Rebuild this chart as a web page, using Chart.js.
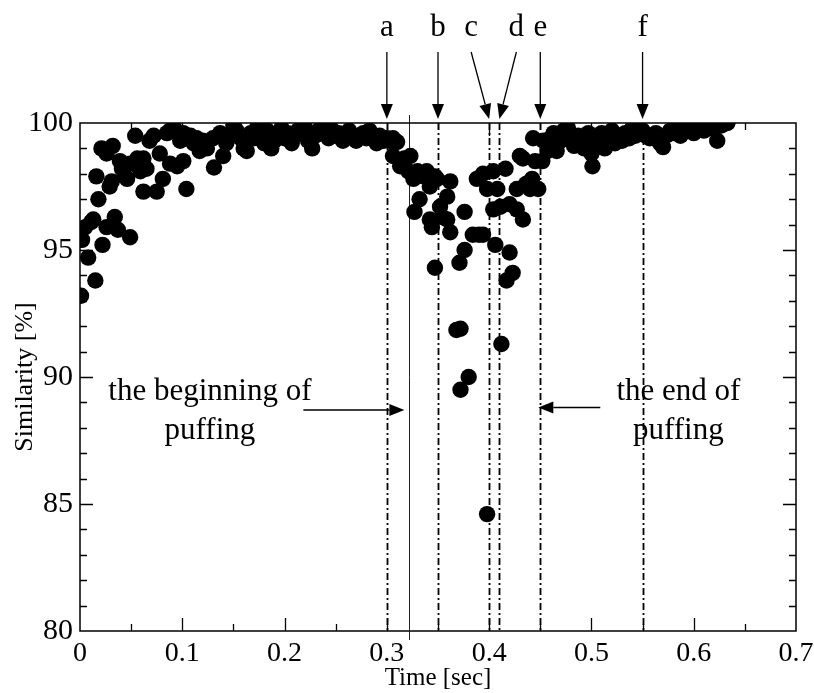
<!DOCTYPE html>
<html>
<head>
<meta charset="utf-8">
<script src="https://cdn.jsdelivr.net/npm/chart.js@4.4.1/dist/chart.umd.min.js"></script>
<style>
  html, body { margin: 0; padding: 0; background: #fff; }
  canvas { display: block; }
</style>
</head>
<body>
<canvas id="chart" width="814" height="693"></canvas>
<script>
// Frame-by-frame similarity of the image sequence
const timeSec = [
  0.001, 0.002, 0.005, 0.008, 0.011, 0.013, 0.015, 0.016, 0.018, 0.021,
  0.022, 0.026, 0.026, 0.029, 0.031, 0.032, 0.034, 0.037, 0.039, 0.041,
  0.044, 0.046, 0.049, 0.049, 0.054, 0.056, 0.059, 0.062, 0.062, 0.065,
  0.068, 0.072, 0.075, 0.078, 0.081, 0.085, 0.088, 0.088, 0.092, 0.095,
  0.098, 0.101, 0.101, 0.104, 0.108, 0.111, 0.114, 0.117, 0.120, 0.124,
  0.131, 0.130, 0.137, 0.140, 0.143, 0.147, 0.150, 0.153,
  0.157, 0.160, 0.163, 0.167, 0.170, 0.173, 0.177, 0.180, 0.183, 0.187,
  0.190, 0.193, 0.197, 0.200, 0.203, 0.207, 0.210, 0.213, 0.217, 0.220,
  0.223, 0.227, 0.230, 0.233, 0.237, 0.240, 0.243, 0.247, 0.250, 0.253,
  0.257, 0.260, 0.263, 0.267, 0.270, 0.273, 0.277, 0.280, 0.283, 0.287,
  0.290, 0.293, 0.297, 0.300, 0.303, 0.306, 0.310,
  0.306, 0.313, 0.317, 0.321, 0.323, 0.326, 0.330, 0.332, 0.327, 0.336,
  0.339, 0.342, 0.342, 0.344, 0.347, 0.347, 0.349, 0.352, 0.354, 0.359,
  0.359, 0.362, 0.362, 0.368, 0.371, 0.372, 0.372, 0.376, 0.376, 0.380,
  0.384, 0.388, 0.390, 0.394, 0.394, 0.398, 0.398, 0.404, 0.404, 0.406,
  0.408, 0.411, 0.412, 0.416, 0.417, 0.420, 0.420, 0.423, 0.427, 0.427,
  0.430, 0.433, 0.433, 0.436, 0.438, 0.440, 0.442, 0.443, 0.445, 0.448,
  0.452, 0.453,
  0.457, 0.460, 0.463, 0.466, 0.470, 0.473, 0.477, 0.480, 0.483, 0.487,
  0.490, 0.493, 0.497, 0.500, 0.501, 0.503, 0.507, 0.510, 0.513, 0.517,
  0.520, 0.523, 0.527, 0.530, 0.533, 0.537, 0.540, 0.543, 0.547, 0.550,
  0.553, 0.557, 0.560, 0.563, 0.567, 0.570, 0.573, 0.577, 0.580, 0.583,
  0.587, 0.590, 0.593, 0.597, 0.600, 0.603, 0.607, 0.610, 0.613, 0.617,
  0.620, 0.623, 0.627, 0.630, 0.633
];

const similarity = [
  93.2, 95.4, 95.9, 94.7, 96.1, 96.2, 93.8, 97.9, 97.0, 99.0,
  95.2, 98.8, 95.9, 97.5, 97.7, 99.1, 96.3, 95.8, 98.5, 98.2,
  97.9, 97.8, 98.4, 95.5, 99.5, 98.6, 98.1, 97.3, 98.6, 98.2,
  99.3, 99.5, 97.3, 98.8, 97.8, 99.6, 99.7, 98.4, 99.8, 98.3,
  99.3, 99.6, 98.5, 97.4, 99.5, 99.2, 99.4, 98.9, 99.3, 99.0,
  98.25, 99.4, 99.6, 98.7, 99.2, 99.5, 99.9, 99.7,
  99.4, 99.0, 98.9, 99.6, 99.4, 99.8, 99.5, 99.2, 99.7, 99.0,
  99.3, 99.6, 99.8, 99.4, 99.6, 99.2, 99.5, 99.7, 99.9, 99.8,
  99.3, 99.0, 99.5, 99.7, 99.9, 99.6, 99.4, 99.7, 99.5, 99.6,
  99.3, 99.5, 99.7, 99.4, 99.3, 99.5, 99.6, 99.4, 99.7, 99.4,
  99.2, 99.5, 99.3, 99.4, 99.3, 99.4, 99.25,
  98.7, 98.3, 98.6, 98.1, 98.7, 97.8, 98.1, 97.0, 96.5, 97.9,
  98.1, 97.5, 96.2, 95.9, 97.9, 94.3, 97.8, 96.7, 96.3, 97.1,
  96.2, 97.7, 95.7, 91.85, 94.5, 91.9, 89.5, 96.5, 95.0, 90.0,
  95.6, 97.8, 95.6, 98.0, 95.6, 97.4, 84.6, 98.1, 96.6, 95.2,
  97.4, 96.7, 91.3, 98.2, 93.8, 96.8, 94.9, 94.1, 96.6, 97.4,
  98.7, 96.2, 98.6, 97.6, 97.5, 97.4, 97.8, 99.4, 98.5, 97.4,
  98.5, 99.3,
  98.9, 99.4, 99.6, 98.9, 99.3, 99.7, 99.8, 99.4, 99.1, 99.5,
  99.3, 99.0, 99.6, 98.8, 98.3, 99.4, 99.2, 99.6, 99.0, 99.4,
  99.7, 99.2, 99.5, 99.3, 99.6, 99.4, 99.8, 99.5, 99.6, 99.7,
  99.5, 99.4, 99.5, 99.6, 99.2, 99.05, 99.5, 99.7, 99.6, 99.8,
  99.5, 99.7, 99.9, 99.8, 99.6, 99.8, 99.9, 99.7, 99.9, 99.8,
  100.0, 99.3, 99.9, 100.0, 100.0
];

// Reference instants marked above the plot
const markerTimes = [0.30, 0.35, 0.40, 0.41, 0.45, 0.55];
const markerLabels = ['a', 'b', 'c', 'd', 'e', 'f'];
const puffStartTime = 0.322;

// Axis ranges and ticks
const xRange = [0, 0.7];
const xMajorStep = 0.1;
const xMinorStep = 0.05;
const yRange = [80, 100];
const yMajorStep = 5;
const yMinorStep = 1;

const SERIF = "'Liberation Serif', 'Times New Roman', serif";

function arrow(ctx, x0, y0, x1, y1, headLen, headW) {
  const ang = Math.atan2(y1 - y0, x1 - x0);
  const bx = x1 - headLen * Math.cos(ang);
  const by = y1 - headLen * Math.sin(ang);
  ctx.beginPath();
  ctx.moveTo(x0, y0);
  ctx.lineTo(bx, by);
  ctx.stroke();
  ctx.beginPath();
  ctx.moveTo(x1, y1);
  ctx.lineTo(bx + headW / 2 * Math.sin(ang), by - headW / 2 * Math.cos(ang));
  ctx.lineTo(bx - headW / 2 * Math.sin(ang), by + headW / 2 * Math.cos(ang));
  ctx.closePath();
  ctx.fill();
}

// Event lines drawn beneath the points
const eventLines = {
  id: 'eventLines',
  beforeDatasetsDraw(chart) {
    const { ctx, chartArea: a, scales: { x } } = chart;
    ctx.save();
    ctx.strokeStyle = '#000';
    ctx.lineWidth = 1.8;
    ctx.setLineDash([7, 3, 2, 3]);
    markerTimes.forEach(t => {
      const px = Math.round(x.getPixelForValue(t)) + 0.5;
      ctx.beginPath();
      ctx.moveTo(px, a.top);
      ctx.lineTo(px, a.bottom);
      ctx.stroke();
    });
    ctx.setLineDash([]);
    ctx.lineWidth = 1;
    ctx.strokeStyle = '#222';
    const ps = Math.round(x.getPixelForValue(puffStartTime)) + 0.5;
    ctx.beginPath();
    ctx.moveTo(ps, a.top - 8);
    ctx.lineTo(ps, a.bottom + 9);
    ctx.stroke();
    ctx.restore();
  }
};

// Box frame, inward ticks and annotations drawn on top
const frameAndNotes = {
  id: 'frameAndNotes',
  afterDatasetsDraw(chart) {
    const { ctx, chartArea: a, scales: { x, y } } = chart;
    ctx.save();
    ctx.strokeStyle = '#000';
    ctx.fillStyle = '#000';
    ctx.lineWidth = 1.5;
    ctx.strokeRect(a.left, a.top, a.right - a.left, a.bottom - a.top);

    // inward tick marks on all four sides
    ctx.lineWidth = 1.3;
    const nx = Math.round((xRange[1] - xRange[0]) / xMinorStep);
    for (let i = 1; i < nx; i++) {
      const v = xRange[0] + i * xMinorStep;
      const len = (i % Math.round(xMajorStep / xMinorStep) === 0) ? 13 : 7;
      const px = Math.round(x.getPixelForValue(v)) + 0.5;
      ctx.beginPath();
      ctx.moveTo(px, a.bottom); ctx.lineTo(px, a.bottom - len);
      ctx.moveTo(px, a.top); ctx.lineTo(px, a.top + len);
      ctx.stroke();
    }
    const ny = Math.round((yRange[1] - yRange[0]) / yMinorStep);
    for (let i = 1; i < ny; i++) {
      const v = yRange[0] + i * yMinorStep;
      const len = (i % Math.round(yMajorStep / yMinorStep) === 0) ? 13 : 7;
      const py = Math.round(y.getPixelForValue(v)) + 0.5;
      ctx.beginPath();
      ctx.moveTo(a.left, py); ctx.lineTo(a.left + len, py);
      ctx.moveTo(a.right, py); ctx.lineTo(a.right - len, py);
      ctx.stroke();
    }

    // letters and arrows above the plot
    ctx.font = '31px ' + SERIF;
    ctx.textAlign = 'center';
    ctx.textBaseline = 'alphabetic';
    ctx.lineWidth = 1.3;
    const slant = { c: -18, d: 17 };
    markerTimes.forEach((t, i) => {
      const lab = markerLabels[i];
      const px = x.getPixelForValue(t);
      const dx = slant[lab] || 0;
      ctx.fillText(lab, px + dx, 36);
      arrow(ctx, px + dx, 52, px, a.top - 4, 15, 12);
    });

    // puffing annotations
    ctx.font = '31px ' + SERIF;
    const ps = x.getPixelForValue(puffStartTime);
    const lx = x.getPixelForValue(0.127);
    ctx.fillText('the beginning of', lx, y.getPixelForValue(89.1));
    ctx.fillText('puffing', lx, y.getPixelForValue(87.55));
    arrow(ctx, ps - 106, y.getPixelForValue(88.7), ps - 5, y.getPixelForValue(88.7), 15, 12);

    const pe = x.getPixelForValue(markerTimes[4]);
    const rx = x.getPixelForValue(0.585);
    ctx.fillText('the end of', rx, y.getPixelForValue(89.1));
    ctx.fillText('puffing', rx, y.getPixelForValue(87.55));
    arrow(ctx, pe + 60, y.getPixelForValue(88.8), pe - 2, y.getPixelForValue(88.8), 15, 12);
    ctx.restore();
  }
};

const points = timeSec.map((t, i) => ({ x: t, y: similarity[i] }));

new Chart(document.getElementById('chart'), {
  type: 'scatter',
  data: {
    datasets: [{
      data: points,
      pointRadius: 8.2,
      pointHoverRadius: 8.2,
      pointBackgroundColor: '#000',
      pointBorderWidth: 0,
      borderWidth: 0
    }]
  },
  options: {
    responsive: false,
    animation: false,
    events: [],
    layout: { padding: { top: 123, right: 18, left: 0, bottom: 0 } },
    plugins: { legend: { display: false }, tooltip: { enabled: false } },
    scales: {
      x: {
        type: 'linear',
        min: xRange[0], max: xRange[1],
        grid: { display: false, drawTicks: false },
        border: { display: false },
        ticks: {
          stepSize: xMajorStep,
          padding: 6,
          color: '#000',
          font: { family: SERIF, size: 28 },
          maxRotation: 0
        },
        title: {
          display: true, text: 'Time [sec]', color: '#000',
          font: { family: SERIF, size: 25 },
          padding: { top: 0, bottom: 0 }
        },
        afterFit(s) { s.height = 62; s.paddingLeft = 0; s.paddingRight = 0; }
      },
      y: {
        type: 'linear',
        min: yRange[0], max: yRange[1],
        grid: { display: false, drawTicks: false },
        border: { display: false },
        ticks: {
          stepSize: yMajorStep,
          padding: 7,
          color: '#000',
          font: { family: SERIF, size: 30 }
        },
        title: {
          display: true, text: 'Similarity [%]', color: '#000',
          font: { family: SERIF, size: 26 },
          padding: { top: 10, bottom: 0 }
        },
        afterFit(s) { s.width = 80; s.paddingTop = 0; s.paddingBottom = 0; }
      }
    }
  },
  plugins: [eventLines, frameAndNotes]
});
</script>
</body>
</html>
